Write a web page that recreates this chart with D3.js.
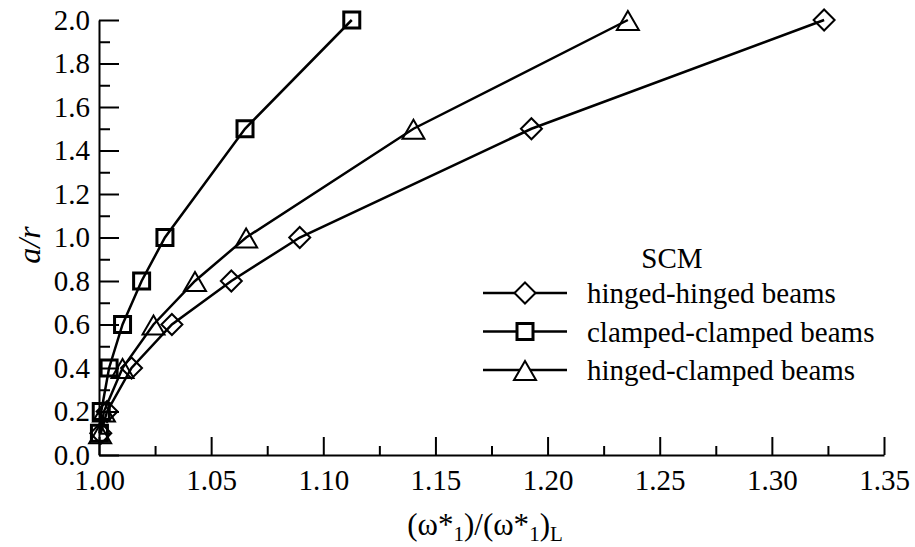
<!DOCTYPE html>
<html>
<head>
<meta charset="utf-8">
<script src="https://cdn.jsdelivr.net/npm/d3@7/dist/d3.min.js"></script>
<style>
  html, body { margin: 0; padding: 0; background: #fff; }
  svg { display: block; }
  text { font-family: "Liberation Serif", Tinos, "Times New Roman", "Nimbus Roman", "DejaVu Serif", serif; fill: #000; }
</style>
</head>
<body>
<svg id="chart" width="915" height="547"></svg>
<script>
// Aspect ratio a/r sampled at these levels for every boundary condition
const aOverR = [0.1, 0.2, 0.4, 0.6, 0.8, 1.0, 1.5, 2.0];

// Nonlinear-to-linear frequency ratio (ω*1)/(ω*1)L for each case
const hingedHinged   = [1.0008, 1.0036, 1.0145, 1.0325, 1.0590, 1.0895, 1.1928, 1.3233];
const clampedClamped = [1.0002, 1.0010, 1.0045, 1.0105, 1.0190, 1.0294, 1.0651, 1.1127];
const hingedClamped  = [1.0005, 1.0022, 1.0105, 1.0243, 1.0428, 1.0656, 1.1402, 1.2358];

const seriesNames   = ["hinged-hinged beams", "clamped-clamped beams", "hinged-clamped beams"];
const seriesMarkers = ["diamond", "square", "triangle"];
const seriesValues  = [hingedHinged, clampedClamped, hingedClamped];

const xTicks = [1.00, 1.05, 1.10, 1.15, 1.20, 1.25, 1.30, 1.35];
const yTicks = [0.0, 0.2, 0.4, 0.6, 0.8, 1.0, 1.2, 1.4, 1.6, 1.8, 2.0];
const legendTitle = "SCM";

const FONT = '"Liberation Serif", Tinos, "Times New Roman", "Nimbus Roman", "DejaVu Serif", serif';

const svg = d3.select("#chart");
const x = d3.scaleLinear().domain([1.00, 1.35]).range([99, 884]);
const y = d3.scaleLinear().domain([0, 2]).range([455, 20]);

// marker outlines, centred on the data point
const markerPath = {
  diamond: () => "M0,-10.5L10.5,0L0,10.5L-10.5,0Z",
  square: () => "M-8,-8H8V8H-8Z",
  triangle: () => "M0,-9L11,10H-11Z"
};
const markerStroke = { diamond: 2, square: 3, triangle: 2 };

// minor ticks sit halfway between the labelled ones
const yMinor = d3.range(0.1, 2.0, 0.2);
const xMinor = d3.range(1.025, 1.35, 0.05);

function styleAxis(g) {
  g.attr("font-family", FONT).attr("font-size", 29);
  g.select(".domain").attr("stroke", "#000").attr("stroke-width", 2);
  g.selectAll(".tick line").attr("stroke", "#000").attr("stroke-width", 2);
  g.selectAll(".tick text").attr("fill", "#000");
}

// minor ticks (no labels, no domain)
svg.append("g").attr("transform", `translate(${x.range()[0]},0)`)
  .call(d3.axisLeft(y).tickValues(yMinor).tickSize(-11).tickFormat(""))
  .call(g => { g.select(".domain").remove(); g.selectAll("line").attr("stroke", "#000").attr("stroke-width", 2); });
svg.append("g").attr("transform", `translate(0,${y.range()[0]})`)
  .call(d3.axisBottom(x).tickValues(xMinor).tickSize(-9).tickFormat(""))
  .call(g => { g.select(".domain").remove(); g.selectAll("line").attr("stroke", "#000").attr("stroke-width", 2); });

// major ticks and labels
svg.append("g").attr("transform", `translate(${x.range()[0]},0)`)
  .call(d3.axisLeft(y).tickValues(yTicks).tickSize(-20).tickSizeOuter(0).tickPadding(9).tickFormat(d3.format(".1f")))
  .call(styleAxis);
svg.append("g").attr("transform", `translate(0,${y.range()[0]})`)
  .call(d3.axisBottom(x).tickValues(xTicks).tickSize(-18).tickSizeOuter(0).tickPadding(14).tickFormat(d3.format(".2f")))
  .call(styleAxis);

// axis titles
svg.append("text")
  .attr("transform", "translate(40,245) rotate(-90)")
  .attr("text-anchor", "middle")
  .style("font-size", "32px").style("font-style", "italic")
  .text("a/r");

const xt = svg.append("text")
  .attr("x", 485).attr("y", 535)
  .attr("text-anchor", "middle")
  .style("font-size", "31px");
xt.append("tspan").text("(ω*");
xt.append("tspan").attr("baseline-shift", "-30%").style("font-size", "21px").text("1");
xt.append("tspan").text(")/(ω*");
xt.append("tspan").attr("baseline-shift", "-30%").style("font-size", "21px").text("1");
xt.append("tspan").text(")");
xt.append("tspan").attr("baseline-shift", "-30%").style("font-size", "21px").text("L");

// curves with open markers
const line = d3.line().x(d => x(d[0])).y(d => y(d[1]));
seriesValues.forEach((vals, i) => {
  const pts = vals.map((v, j) => [v, aOverR[j]]);
  const g = svg.append("g");
  g.append("path").attr("d", line(pts))
    .attr("fill", "none").attr("stroke", "#000").attr("stroke-width", 2.5);
  g.selectAll("path.m").data(pts).join("path").attr("class", "m")
    .attr("transform", d => `translate(${x(d[0])},${y(d[1])})`)
    .attr("d", markerPath[seriesMarkers[i]]())
    .attr("fill", "none").attr("stroke", "#000")
    .attr("stroke-width", markerStroke[seriesMarkers[i]]);
});

// legend
const lg = svg.append("g");
lg.append("text").attr("x", 672).attr("y", 268).attr("text-anchor", "middle")
  .style("font-size", "29px").text(legendTitle);
const rowY = [293, 331.5, 370];
seriesNames.forEach((name, i) => {
  const r = lg.append("g").attr("transform", `translate(0,${rowY[i]})`);
  r.append("line").attr("x1", 483).attr("x2", 567).attr("y1", 0).attr("y2", 0)
    .attr("stroke", "#000").attr("stroke-width", 2.5);
  r.append("path").attr("transform", "translate(525,0)")
    .attr("d", markerPath[seriesMarkers[i]]())
    .attr("fill", "#fff").attr("stroke", "#000")
    .attr("stroke-width", markerStroke[seriesMarkers[i]]);
  r.append("text").attr("x", 587).attr("y", 10)
    .style("font-size", "29px").text(name);
});
</script>
</body>
</html>
